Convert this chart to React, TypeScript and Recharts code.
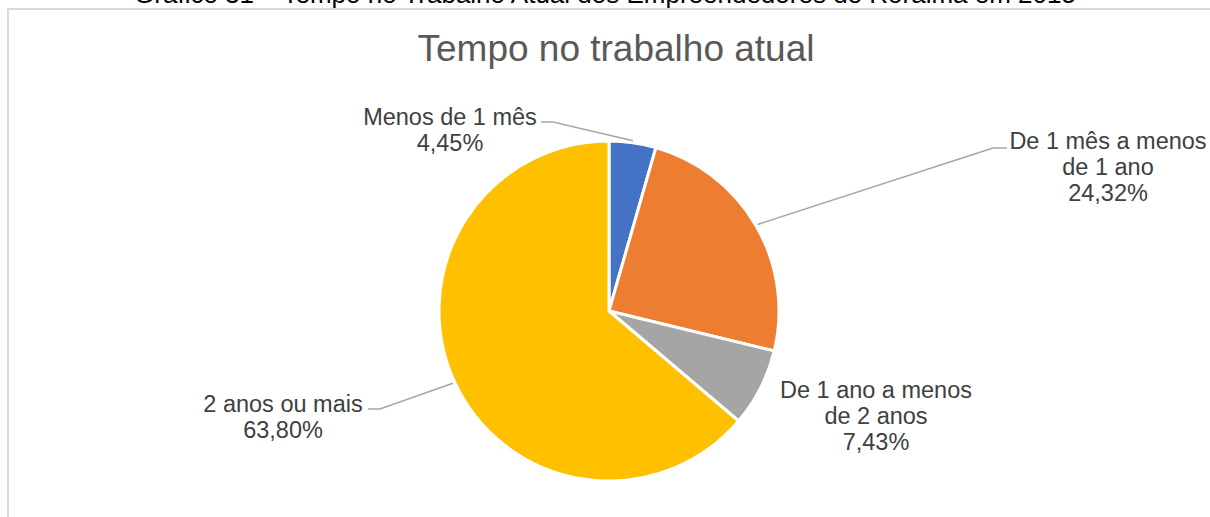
import { Cell, Pie, PieChart } from "recharts";

// Tempo no trabalho atual – empreendedores de Roraima
const categories = [
  "Menos de 1 mês",
  "De 1 mês a menos de 1 ano",
  "De 1 ano a menos de 2 anos",
  "2 anos ou mais",
];
const shares = [4.45, 24.32, 7.43, 63.8];
const colors = ["#4472c4", "#ed7d31", "#a5a5a5", "#ffc000"];

const data = categories.map((name, i) => ({ name, value: shares[i] }));

// where each data label sits (text centre, first line) and its leader elbow
const labelLayout = [
  { x: 450, y: 117, elbow: [553, 122], end: [541, 122] },
  { x: 1108, y: 141, elbow: [993, 148], end: [1007, 148] },
  { x: 876, y: 390, elbow: null, end: null },
  { x: 283, y: 404, elbow: [380, 409], end: [368, 409] },
];

const RAD = Math.PI / 180;
const FONT = "'Liberation Sans', Arial, sans-serif";

const wrap = (text: string, max = 16) => {
  const out: string[] = [];
  let cur = "";
  for (const w of text.split(" ")) {
    const next = cur ? cur + " " + w : w;
    if (next.length > max && cur) {
      out.push(cur);
      cur = w;
    } else cur = next;
  }
  if (cur) out.push(cur);
  return out;
};

const fmt = (v: number) => v.toFixed(2).replace(".", ",") + "%";

const renderLabel = (props: any) => {
  const { cx, cy, midAngle, outerRadius, index, name, value } = props;
  const lay = labelLayout[index];
  const lines = [...wrap(name), fmt(value)];
  const r = outerRadius + 2;
  const sx = cx + r * Math.cos(-midAngle * RAD);
  const sy = cy + r * Math.sin(-midAngle * RAD);
  return (
    <g key={"lbl" + index}>
      {lay.elbow && lay.end && (
        <polyline
          points={`${sx},${sy} ${lay.elbow[0]},${lay.elbow[1]} ${lay.end[0]},${lay.end[1]}`}
          fill="none"
          stroke="#a6a6a6"
          strokeWidth={1.5}
        />
      )}
      {lines.map((l, i) => (
        <text
          key={i}
          x={lay.x}
          y={lay.y + i * 26}
          textAnchor="middle"
          dominantBaseline="central"
          fontFamily={FONT}
          fontSize={23.5}
          fill="#404040"
        >
          {l}
        </text>
      ))}
    </g>
  );
};

export default function App() {
  return (
    <div
      style={{
        position: "absolute",
        left: 0,
        top: 0,
        width: 1210,
        height: 517,
        overflow: "hidden",
        background: "#fff",
      }}
    >
      <div
        style={{
          position: "absolute",
          left: 0,
          width: 1210,
          top: -21,
          textAlign: "center",
          fontFamily: FONT,
          fontSize: 26,
          lineHeight: "30px",
          color: "#000",
          whiteSpace: "nowrap",
        }}
      >
        Gráfico 31 – Tempo no Trabalho Atual dos Empreendedores de Roraima em 2015
      </div>
      <div
        style={{
          position: "absolute",
          left: 7,
          top: 8,
          width: 1300,
          height: 600,
          borderTop: "2px solid #d9d9d9",
          borderLeft: "2px solid #d9d9d9",
        }}
      />
      <div
        style={{
          position: "absolute",
          left: 0,
          top: 27,
          width: 1232,
          textAlign: "center",
          fontFamily: FONT,
          fontSize: 37,
          lineHeight: "44px",
          color: "#595959",
        }}
      >
        Tempo no trabalho atual
      </div>
      <div style={{ position: "absolute", left: 0, top: 0 }}>
        <PieChart width={1210} height={517}>
          <Pie
            data={data}
            dataKey="value"
            nameKey="name"
            cx={604}
            cy={306}
            outerRadius={170}
            startAngle={90}
            endAngle={-270}
            stroke="#fff"
            strokeWidth={3}
            label={renderLabel}
            labelLine={false}
            isAnimationActive={false}
          >
            {data.map((d, i) => (
              <Cell key={d.name} fill={colors[i]} />
            ))}
          </Pie>
        </PieChart>
      </div>
    </div>
  );
}
